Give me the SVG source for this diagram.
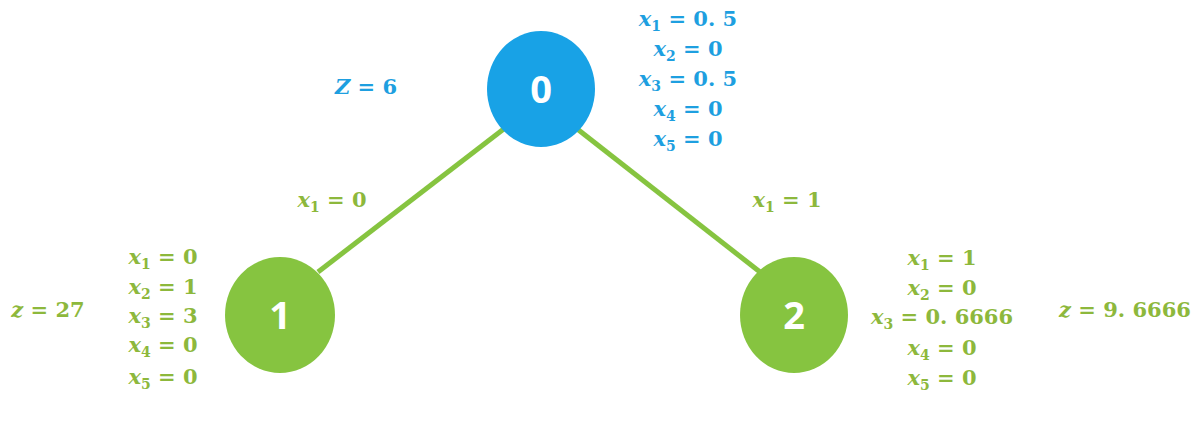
<svg xmlns="http://www.w3.org/2000/svg" width="1204" height="421" viewBox="0 0 1204 421">
<style>
.lb{font-family:"DejaVu Serif","Liberation Serif",serif;font-weight:bold;font-size:21px;text-anchor:middle}
.lb .v{font-style:italic}
.lb .s{font-size:14px}
.blue{fill:#1E9FE0}
.green{fill:#8DB83C}
.num{font-family:"Open Sans","Liberation Sans",sans-serif;font-weight:bold;font-size:38px;fill:#fff;text-anchor:middle}
.edge{stroke:#86C440;stroke-width:5;fill:none}
</style>
<rect width="1204" height="421" fill="#fff"/>
<g id="connectors">
<line class="edge" x1="505" y1="128" x2="318" y2="272"/>
<line class="edge" x1="576" y1="128" x2="760" y2="272"/>
</g>
<g id="node0">
<ellipse cx="541" cy="89" rx="54" ry="58" fill="#18A2E6"/>
<text class="num" x="541" y="103">0</text>
<text class="lb blue" x="366" y="94"><tspan class="v">Z</tspan> = 6</text>
<text class="lb blue" x="688" y="26"><tspan class="v">x</tspan><tspan class="s" dy="5">1</tspan><tspan dy="-5"> = 0. 5</tspan></text>
<text class="lb blue" x="688" y="56"><tspan class="v">x</tspan><tspan class="s" dy="5">2</tspan><tspan dy="-5"> = 0</tspan></text>
<text class="lb blue" x="688" y="86"><tspan class="v">x</tspan><tspan class="s" dy="5">3</tspan><tspan dy="-5"> = 0. 5</tspan></text>
<text class="lb blue" x="688" y="116"><tspan class="v">x</tspan><tspan class="s" dy="5">4</tspan><tspan dy="-5"> = 0</tspan></text>
<text class="lb blue" x="688" y="146"><tspan class="v">x</tspan><tspan class="s" dy="5">5</tspan><tspan dy="-5"> = 0</tspan></text>
</g>
<g id="node1">
<ellipse cx="280" cy="315" rx="55" ry="58" fill="#86C440"/>
<text class="num" x="280" y="329">1</text>
<text class="lb green" x="332" y="207"><tspan class="v">x</tspan><tspan class="s" dy="5">1</tspan><tspan dy="-5"> = 0</tspan></text>
<text class="lb green" x="48" y="317"><tspan class="v">z</tspan> = 27</text>
<text class="lb green" x="163" y="264"><tspan class="v">x</tspan><tspan class="s" dy="5">1</tspan><tspan dy="-5"> = 0</tspan></text>
<text class="lb green" x="163" y="294"><tspan class="v">x</tspan><tspan class="s" dy="5">2</tspan><tspan dy="-5"> = 1</tspan></text>
<text class="lb green" x="163" y="323"><tspan class="v">x</tspan><tspan class="s" dy="5">3</tspan><tspan dy="-5"> = 3</tspan></text>
<text class="lb green" x="163" y="352"><tspan class="v">x</tspan><tspan class="s" dy="5">4</tspan><tspan dy="-5"> = 0</tspan></text>
<text class="lb green" x="163" y="384"><tspan class="v">x</tspan><tspan class="s" dy="5">5</tspan><tspan dy="-5"> = 0</tspan></text>
</g>
<g id="node2">
<ellipse cx="794" cy="315" rx="54" ry="58" fill="#86C440"/>
<text class="num" x="794" y="329">2</text>
<text class="lb green" x="787" y="207"><tspan class="v">x</tspan><tspan class="s" dy="5">1</tspan><tspan dy="-5"> = 1</tspan></text>
<text class="lb green" x="1125" y="317"><tspan class="v">z</tspan> = 9. 6666</text>
<text class="lb green" x="942" y="265"><tspan class="v">x</tspan><tspan class="s" dy="5">1</tspan><tspan dy="-5"> = 1</tspan></text>
<text class="lb green" x="942" y="295"><tspan class="v">x</tspan><tspan class="s" dy="5">2</tspan><tspan dy="-5"> = 0</tspan></text>
<text class="lb green" x="942" y="324"><tspan class="v">x</tspan><tspan class="s" dy="5">3</tspan><tspan dy="-5"> = 0. 6666</tspan></text>
<text class="lb green" x="942" y="355"><tspan class="v">x</tspan><tspan class="s" dy="5">4</tspan><tspan dy="-5"> = 0</tspan></text>
<text class="lb green" x="942" y="385"><tspan class="v">x</tspan><tspan class="s" dy="5">5</tspan><tspan dy="-5"> = 0</tspan></text>
</g>
</svg>
